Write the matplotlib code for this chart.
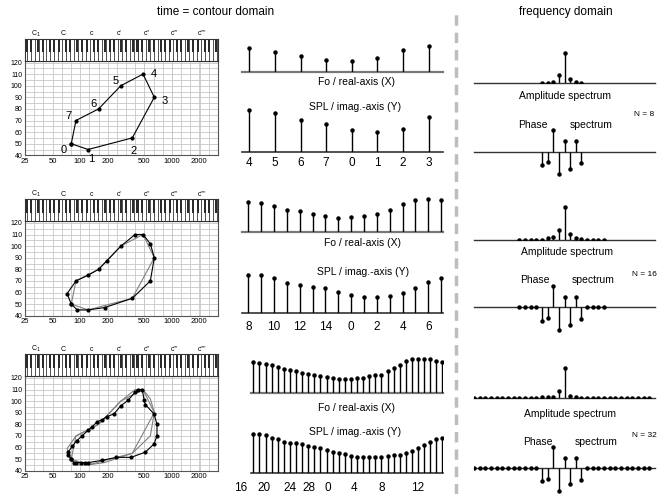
import numpy as np
import matplotlib
matplotlib.use('Agg')
from matplotlib import pyplot as plt
from matplotlib.ticker import NullFormatter

plt.rcParams['font.family'] = ['Liberation Sans', 'DejaVu Sans']

W, H = 662, 494

# contour points: Fo (Hz) and SPL (dB) for time index 0..N-1
fo_8 = [80, 122, 371, 645, 486, 278, 159, 90]
spl_8 = [50, 45, 55, 90, 110, 100, 80, 70]

fo_16 = [80, 93, 122, 185, 371, 584, 645, 584, 486, 399, 278, 194, 159, 123, 90, 72]
spl_16 = [50, 45, 45, 47, 55, 70, 90, 102, 110, 110, 100, 87, 80, 75, 70, 59]

fo_32 = [80, 85, 89, 102, 114, 123, 175, 249, 360, 515, 640, 690, 690, 640, 515, 500,
         477, 428, 401, 333, 278, 234, 195, 175, 152, 136, 123, 105, 92, 82, 74, 74]
spl_32 = [50, 47, 47, 47, 47, 47, 49, 51.5, 51.5, 56, 63, 70, 80, 89, 97, 100.6,
          110, 110, 108, 100.6, 96, 89, 86.5, 84, 82, 78, 75, 70, 66, 61, 56, 53.5]

# spectra (arbitrary units), bins from lowest to highest
amp_8 = [0.5, 0.5, 1.7, 8.3, 30.7, 4.0, 1.0, 0.3]
phase_8 = [-12.7, -9.3, 22.3, -21.7, 11.3, -16.7, 11.3, -11.0]

amp_16 = [0, 0, 0, 0, 0.3, 1.5, 2.5, 10, 32.7, 5.7, 1.7, 0.7, 0, 0, 0, 0]
phase_16 = [0, 0, 0, 0, -13.3, -10.7, 21.3, -22.7, 10, -18, 10, -12, 0, 0, 0, 0]

amp_32 = [0] * 12 + [1, 1, 1.7, 7.3, 30, 2.7, 1, 0.3] + [0] * 12
phase_32 = [0] * 12 + [-13.3, -11.3, 21, -23.3, 10, -16.7, 10, -12.3] + [0] * 12

# label offsets (px) of the point numbers in the first contour
point_offsets = [(-8, 6), (3, 9), (1, 13), (10, 4), (11, 0), (-5, -5), (-5, -5), (-7, -5)]

freq_ticks = [25, 50, 100, 200, 500, 1000, 2000]
note_labels = ['C$_1$', 'C', 'c', "c'", "c''", "c'''", "c''''"]
note_midi = [24, 36, 48, 60, 72, 84, 96]

F_LO, F_HI = 25, 3100

fig = plt.figure(figsize=(W / 100, H / 100), dpi=100)


def px_axes(x0, y0, x1, y1):
    ax = fig.add_axes([x0 / W, 1 - y1 / H, (x1 - x0) / W, (y1 - y0) / H])
    return ax


def px_text(x, y, s, **kw):
    kw.setdefault('ha', 'center')
    kw.setdefault('va', 'center')
    fig.text(x / W, 1 - y / H, s, **kw)


def note_freq(m):
    return 440.0 * 2 ** ((m - 69) / 12.0)


def bare(ax):
    ax.set_xticks([])
    ax.set_yticks([])
    for s in ax.spines.values():
        s.set_visible(False)
    ax.patch.set_alpha(0)


def draw_keyboard(ax):
    ax.set_xscale('log')
    ax.set_xlim(F_LO, F_HI)
    ax.set_ylim(0, 1)
    ax.set_xticks([])
    ax.set_xticks([], minor=True)
    ax.set_yticks([])
    w = 12 / 7.0
    for octave in range(0, 9):
        c = 12 * (octave + 1)
        for i in range(7):
            ax.axvspan(note_freq(c - 0.5 + i * w), note_freq(c - 0.5 + (i + 1) * w), 0, 1,
                       facecolor='white', edgecolor='#444444', lw=0.6)
        for s in (1, 3, 6, 8, 10):
            ax.axvspan(note_freq(c + s - 0.45), note_freq(c + s + 0.45), 0.38, 1,
                       facecolor='#2a2a2a', edgecolor='none')
    for m, lab in zip(note_midi, note_labels):
        ax.text(note_freq(m), 1.22, lab, transform=ax.get_xaxis_transform(),
                ha='center', va='center', fontsize=5)
    for s in ax.spines.values():
        s.set_color('#333333')
        s.set_linewidth(0.8)


def draw_contour(ax, fo, spl, prev, labels=False):
    ax.set_xscale('log')
    for pf, ps in prev:
        ax.plot(np.append(pf, pf[0]), np.append(ps, ps[0]), color='#808080', lw=0.8)
    ax.plot(np.append(fo, fo[0]), np.append(spl, spl[0]), color='black', lw=0.8,
            marker='o', ms=2)
    if labels:
        for i, (f, s) in enumerate(zip(fo, spl)):
            dx, dy = point_offsets[i]
            ax.annotate(str(i), (f, s), xytext=(dx * 0.72, -dy * 0.72),
                        textcoords='offset points', ha='center', va='center', fontsize=8)
    ax.set_xlim(F_LO, F_HI)
    ax.set_ylim(40, 121.5)
    ax.set_xticks(freq_ticks)
    ax.set_xticklabels([str(t) for t in freq_ticks], fontsize=5.5)
    ax.set_xticks(F_LO * 2 ** (np.arange(0, 22) / 3.0), minor=True)
    ax.xaxis.set_minor_formatter(NullFormatter())
    ax.set_yticks(np.arange(40, 121, 10))
    ax.set_yticklabels([str(v) for v in range(40, 121, 10)], fontsize=5)
    ax.set_yticks(np.arange(45, 121, 10), minor=True)
    ax.yaxis.set_minor_formatter(NullFormatter())
    ax.tick_params(which='both', length=0, pad=2)
    ax.grid(which='both', color='#c8c8c8', lw=0.6)
    ax.set_axisbelow(True)
    for s in ax.spines.values():
        s.set_color('#555555')
        s.set_linewidth(0.8)


def draw_stems(ax, vals, base):
    x = np.arange(len(vals))
    ax.vlines(x, base, vals, color='black', lw=1)
    ax.plot(x, vals, 'o', color='black', ms=2.2)


rows = [
    dict(fo=fo_8, spl=spl_8, amp=amp_8, phase=phase_8, prev=[], n=8, step=1,
         x0=249.3, sp=25.6, left=241.5, fo_base=72.3, spl_base=152.3,
         fo_k=5.0, fo_b=3.98, spl_k=0.338, spl_b=-15.1, lab_y=163.3, lab_x=None,
         fo_txt=(356, 81.7), spl_txt=(355, 106.7),
         amp_base=83.3, ph_base=152.3, amp_txt=(565, 96), ph_y=125, n_y=114.3,
         cont_bot=155.3),
    dict(fo=fo_16, spl=spl_16, amp=amp_16, phase=phase_16, prev=[(fo_8, spl_8)], n=16, step=2,
         x0=248.3, sp=12.85, left=241.5, fo_base=232.3, spl_base=312.7,
         fo_k=6.04, fo_b=3.84, spl_k=0.333, spl_b=-3.0, lab_y=326.7, lab_x=None,
         fo_txt=(363, 242.7), spl_txt=(363, 271.7),
         amp_base=240, ph_base=307.3, amp_txt=(567, 251.7), ph_y=280, n_y=275,
         cont_bot=315.7),
    dict(fo=fo_32, spl=spl_32, amp=amp_32, phase=phase_32, prev=[(fo_8, spl_8), (fo_16, spl_16)],
         n=32, step=4,
         x0=253.3, sp=6.1, left=250.5, fo_base=393.3, spl_base=473.3,
         fo_k=6.43, fo_b=4.03, spl_k=0.355, spl_b=0.0, lab_y=488.3,
         lab_x=[241, 264, 290, 309, 328, 354, 382, 418],
         fo_txt=(357, 408.3), spl_txt=(355, 432.3),
         amp_base=398.3, ph_base=467.7, amp_txt=(570, 414), ph_y=442.3, n_y=435,
         cont_bot=470.7),
]

for r_i, r in enumerate(rows):
    n = r['n']
    # contour plot + keyboard
    bot = r['cont_bot']
    top = bot - 81.5 * 1.16
    ax = px_axes(25, top, 218, bot)
    draw_contour(ax, r['fo'], r['spl'], r['prev'], labels=(r_i == 0))
    kb = px_axes(25, top - 22, 218, top)
    draw_keyboard(kb)

    # time-domain stems, order starts at n/2
    order = np.roll(np.arange(n), -n // 2)
    right = 443
    xl = ((r['left'] - r['x0']) / r['sp'], (right - r['x0']) / r['sp'])

    fo_vals = np.log2(np.asarray(r['fo'], float))[order]
    h = 40
    ax = px_axes(r['left'], r['fo_base'] - h, right, r['fo_base'])
    bare(ax)
    ax.set_xlim(*xl)
    ax.set_ylim(r['fo_b'], r['fo_b'] + h / r['fo_k'])
    ax.axhline(r['fo_b'], color='#777777', lw=1.6, clip_on=False)
    draw_stems(ax, fo_vals, r['fo_b'])

    spl_vals = np.asarray(r['spl'], float)[order]
    h = 48
    ax = px_axes(r['left'], r['spl_base'] - h, right, r['spl_base'])
    bare(ax)
    ax.set_xlim(*xl)
    ax.set_ylim(r['spl_b'], r['spl_b'] + h / r['spl_k'])
    ax.axhline(r['spl_b'], color='#333333', lw=1.2, clip_on=False)
    draw_stems(ax, spl_vals, r['spl_b'])
    for c, j in enumerate(range(0, n, r['step'])):
        xp = r['x0'] + r['sp'] * j if r['lab_x'] is None else r['lab_x'][c]
        px_text(xp, r['lab_y'], str(order[j]), fontsize=8.5)

    px_text(*r['fo_txt'], 'Fo / real-axis (X)', fontsize=7.5)
    px_text(*r['spl_txt'], 'SPL / imag.-axis (Y)', fontsize=7.5)

    # frequency-domain stems
    k = np.arange(n) - n // 2
    ax = px_axes(474, r['amp_base'] - 40, 655, r['amp_base'])
    bare(ax)
    ax.set_xlim(-16, 16)
    ax.set_ylim(0, 40)
    ax.axhline(0, color='#333333', lw=1, clip_on=False)
    ax.vlines(k, 0, r['amp'], color='black', lw=1)
    ax.plot(k, r['amp'], 'o', color='black', ms=2.2)

    ax = px_axes(474, r['ph_base'] - 30, 655, r['ph_base'] + 30)
    bare(ax)
    ax.set_xlim(-16, 16)
    ax.set_ylim(-30, 30)
    ax.axhline(0, color='#333333', lw=1, clip_on=False)
    ax.vlines(k, 0, r['phase'], color='black', lw=1)
    ax.plot(k, r['phase'], 'o', color='black', ms=2.2)

    px_text(*r['amp_txt'], 'Amplitude spectrum', fontsize=7.5)
    px_text(r['amp_txt'][0] - 32, r['ph_y'], 'Phase', fontsize=7.5)
    px_text(r['amp_txt'][0] + 26, r['ph_y'], 'spectrum', fontsize=7.5)
    px_text(644, r['n_y'], 'N = %d' % n, fontsize=6)

px_text(216, 12, 'time = contour domain', fontsize=8.5)
px_text(566, 12, 'frequency domain', fontsize=8.5)

# dashed separator
sep = px_axes(450, 0, 462, H)
bare(sep)
sep.set_xlim(0, 1)
sep.set_ylim(H, 0)
sep.axvline(0.5, ymin=0, ymax=0.98, color='#bdbdbd', lw=2.5, linestyle=(0, (3, 2)))

fig.savefig('out.png', dpi=100)
